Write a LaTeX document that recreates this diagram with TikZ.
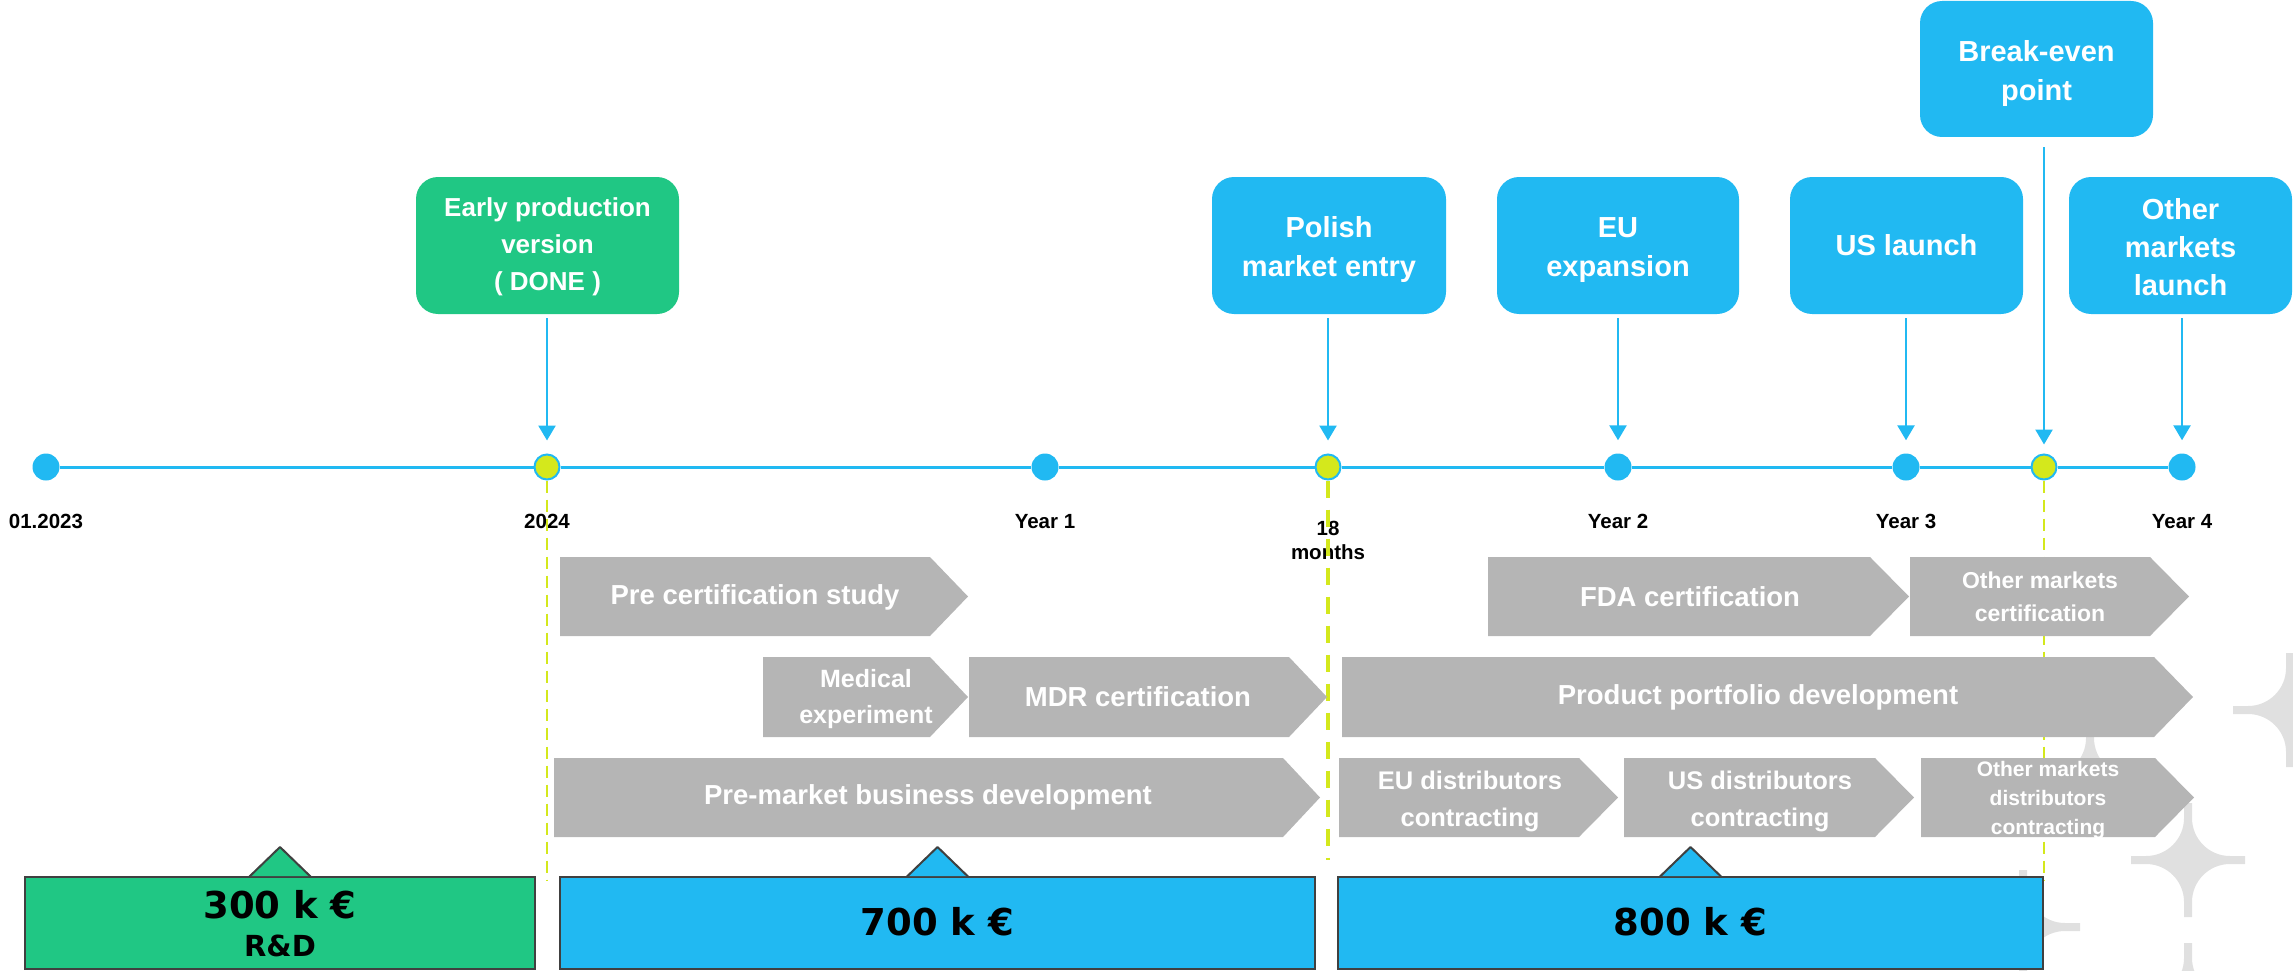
\documentclass[tikz,border=0pt]{standalone}
\usepackage{fontspec}
\setmainfont{Liberation Sans}
\newfontfamily\heavyfont{DejaVu Sans}
\usetikzlibrary{arrows.meta}
\definecolor{tblue}{HTML}{21B9F2}
\definecolor{tgreen}{HTML}{20C784}
\definecolor{tgray}{HTML}{B5B5B5}
\definecolor{tyellow}{HTML}{D4E81C}
\definecolor{tborder}{HTML}{404040}
\definecolor{tstar}{HTML}{E0E0E0}
\newcommand\chevbar[5]{\fill[tgray] (#1,#2) -- (#3,#2) -- (#4,{(#2+#5)/2}) -- (#3,#5) -- (#1,#5) -- cycle;}
\newcommand\sparkle[2]{%
  \begin{scope}[shift={(#1,#2)}]
  \fill[tstar] (4,57) -- (4,42) .. controls (4,21) and (21,4) .. (42,4) -- (57,4) -- (57,-4) -- (42,-4)
    .. controls (21,-4) and (4,-21) .. (4,-42) -- (4,-57) -- (-4,-57) -- (-4,-42)
    .. controls (-4,-21) and (-21,-4) .. (-42,-4) -- (-57,-4) -- (-57,4) -- (-42,4)
    .. controls (-21,4) and (-4,21) .. (-4,42) -- (-4,57) -- cycle;
  \end{scope}}
\begin{document}
\begin{tikzpicture}[x=1pt,y=-1pt,
  topbox/.style={fill=tblue, rounded corners=22pt, inner sep=0pt, minimum height=137pt},
  boxtxt/.style={text=white, align=center, inner sep=0pt, font=\bfseries\fontsize{29}{39}\selectfont},
  dot/.style={circle, fill=tblue, minimum size=27pt, inner sep=0pt},
  ydot/.style={circle, fill=tyellow, draw=tblue, line width=2pt, minimum size=25pt, inner sep=0pt},
  tline/.style={tblue, line width=3pt},
  arr/.style={tblue, line width=2.5pt, -{Triangle[width=17pt,length=15pt]}, shorten <=4pt, shorten >=13pt},
  ythin/.style={tyellow, line width=2pt, dash pattern=on 12pt off 7pt},
  ythick/.style={tyellow, line width=4pt, dash pattern=on 17pt off 12pt},
  lbl/.style={anchor=base, inner sep=0pt, font=\bfseries\fontsize{20.5}{24}\selectfont},
  bartxt/.style={text=white, align=center, inner sep=0pt, font=\bfseries\fontsize{27.5}{36}\selectfont},
  amtbox/.style={draw=tborder, line width=2pt, minimum height=92pt, inner sep=0pt},
  amttxt/.style={anchor=base, inner sep=0pt, font=\heavyfont\bfseries\fontsize{37}{40}\selectfont}]
\useasboundingbox (0,0) rectangle (2293,971);
% background sparkles
\sparkle{2188}{860}
\sparkle{2188}{1000}
\sparkle{2290}{710}
\sparkle{2023}{927}
\sparkle{2090}{780}
% milestone boxes
\node[topbox, fill=tgreen, minimum width=263pt] (early) at (547.5,245.5) {};
\node[topbox, minimum width=234pt] (polish) at (1329,245.5) {};
\node[topbox, minimum width=242pt] (eu) at (1618,245.5) {};
\node[topbox, minimum width=233pt] (us) at (1906.5,245.5) {};
\node[topbox, minimum width=233pt, minimum height=136pt] (be) at (2036.5,69) {};
\node[topbox, minimum width=223pt] (other) at (2180.5,245.5) {};
\node[boxtxt, font=\bfseries\fontsize{26}{37}\selectfont] (earlyT) at ([yshift=-1pt]early.center) {Early production\\version\\( DONE )};
\node[boxtxt] (polishT) at ([yshift=-4.5pt]polish.center) {Polish\\market entry};
\node[boxtxt] (euT) at ([yshift=-4.5pt]eu.center) {EU\\expansion};
\node[boxtxt] (usT) at (us.center) {US launch};
\node[boxtxt] (beT) at ([yshift=-4.5pt]be.center) {Break-even\\point};
\node[boxtxt, font=\bfseries\fontsize{29}{38}\selectfont] (otherT) at ([yshift=-1.5pt]other.center) {Other\\markets\\launch};
% timeline dots
\node[dot] (d1) at (46,467) {};
\node[ydot] (d2) at (547,467) {};
\node[dot] (d3) at (1045,467) {};
\node[ydot] (d4) at (1328,467) {};
\node[dot] (d5) at (1618,467) {};
\node[dot] (d6) at (1906,467) {};
\node[ydot] (d7) at (2044,467) {};
\node[dot] (d8) at (2182,467) {};
\draw[tline] (d1) -- (d2) (d2) -- (d3) (d3) -- (d4) (d4) -- (d5) (d5) -- (d6) (d6) -- (d7) (d7) -- (d8);
% arrows
\draw[arr] (early.south -| d2) -- (d2.north);
\draw[arr] (polish.south -| d4) -- (d4.north);
\draw[arr] (eu.south -| d5) -- (d5.north);
\draw[arr] (us.south -| d6) -- (d6.north);
\draw[arr, shorten <=10pt, shorten >=9pt] (be.south -| d7) -- (d7.north);
\draw[arr] (other.south -| d8) -- (d8.north);
% labels
\node[lbl] (l1) at (46,528) {01.2023};
\node[lbl] (l2) at (547,528) {2024};
\node[lbl] (l3) at (1045,528) {Year 1};
\node[lbl, anchor=center, align=center] (l4) at (1328,540) {18\\months};
\node[lbl] (l5) at (1618,528) {Year 2};
\node[lbl] (l6) at (1906,528) {Year 3};
\node[lbl] (l7) at (2182,528) {Year 4};
% dashed guide lines
\coordinate (e2) at (547,880);
\coordinate (e4) at (1328,860);
\coordinate (e7) at (2044,880);
\draw[ythin] (d2.south) -- (e2);
\draw[ythick] (d4.south) -- (e4);
\draw[ythin] (d7.south) -- (e7);
% phase bars
\chevbar{560}{557}{930}{968}{636}
\chevbar{1488}{557}{1870}{1909}{636}
\chevbar{1910}{557}{2150}{2189}{636}
\chevbar{763}{657}{930}{968}{737}
\chevbar{969}{657}{1289}{1327}{737}
\chevbar{1342}{657}{2154}{2193}{737}
\chevbar{554}{758}{1283}{1320}{837}
\chevbar{1339}{758}{1579}{1618}{837}
\chevbar{1624}{758}{1875}{1914}{837}
\chevbar{1921}{758}{2155}{2194}{837}
\node[bartxt] (p1) at (755,597) {Pre certification study};
\node[bartxt] (p2) at (1690,597) {FDA certification};
\node[bartxt, font=\bfseries\fontsize{23}{33}\selectfont] (p3) at (2040,597) {Other markets\\certification};
\node[bartxt, font=\bfseries\fontsize{25}{36}\selectfont] (p4) at (866,699) {Medical\\experiment};
\node[bartxt] (p5) at (1138,697) {MDR certification};
\node[bartxt] (p6) at (1758,697) {Product portfolio development};
\node[bartxt] (p7) at (928,797) {Pre-market business development};
\node[bartxt, font=\bfseries\fontsize{25.5}{37}\selectfont] (p8) at (1470,801) {EU distributors\\contracting};
\node[bartxt, font=\bfseries\fontsize{25.5}{37}\selectfont] (p9) at (1760,801) {US distributors\\contracting};
\node[bartxt, font=\bfseries\fontsize{21}{29}\selectfont] (p10) at (2048,800) {Other markets\\distributors\\contracting};
% funding boxes
\node[amtbox, fill=tgreen, minimum width=510pt] (f1) at (280,923) {};
\node[amtbox, fill=tblue, minimum width=755pt] (f2) at (937.5,923) {};
\node[amtbox, fill=tblue, minimum width=705pt] (f3) at (1690.5,923) {};
\foreach \c/\col in {280/tgreen, 937.5/tblue, 1690.5/tblue}{
  \fill[\col] (\c-31,876) -- (\c,847) -- (\c+31,876) -- cycle;
  \draw[tborder, line width=2pt, line join=round] (\c-31,877) -- (\c,847) -- (\c+31,877);
}
\node[amttxt] (a1) at (280,918) {300 k €};
\node[amttxt, font=\heavyfont\bfseries\fontsize{29}{32}\selectfont] (a1b) at (280,956) {R\&D};
\node[amttxt] (a2) at (937.5,935) {700 k €};
\node[amttxt] (a3) at (1690.5,935) {800 k €};
\end{tikzpicture}
\end{document}
